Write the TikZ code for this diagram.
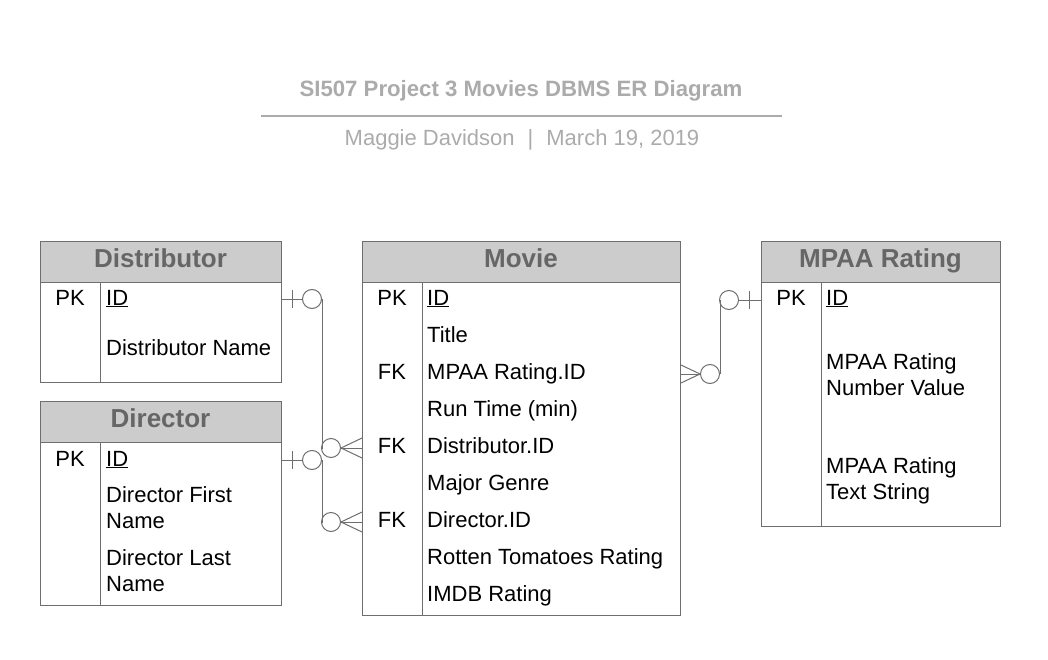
\documentclass[tikz,border=0pt]{standalone}
\usepackage{fontspec}
\setmainfont{Liberation Sans}
\usetikzlibrary{positioning}
\definecolor{linegray}{HTML}{6E6E6E}
\definecolor{hdrgray}{HTML}{CCCCCC}
\definecolor{hdrtextgray}{HTML}{666666}
\definecolor{titlegray}{HTML}{ABABAB}
\tikzset{
  tbl/.style={draw=linegray, line width=1pt, anchor=north west, inner sep=0pt},
  hdr/.style={tbl, fill=hdrgray, minimum height=41pt},
  hdrtext/.style={anchor=base, inner sep=0pt, text=hdrtextgray, font=\fontsize{26}{30}\selectfont\bfseries},
  fld/.style={anchor=base west, inner sep=0pt, align=left, font=\fontsize{22}{26}\selectfont},
  keycol/.style={anchor=base, inner sep=0pt, font=\fontsize{22}{26}\selectfont},
  conn/.style={draw=linegray, line width=1pt},
  ring/.style={circle, draw=linegray, fill=white, line width=1pt, minimum size=19pt, inner sep=0pt}
}
\begin{document}
\begin{tikzpicture}[x=1pt, y=-1pt]
\useasboundingbox (0,0) rectangle (1048,660);

% title block
\node[anchor=base, inner sep=0pt, text=titlegray, font=\fontsize{22.2}{26}\selectfont\bfseries] (title) at (521,97) {SI507 Project 3 Movies DBMS ER Diagram};
\draw[titlegray, line width=2pt] (261,116) -- (782,116);
\node[anchor=base, inner sep=0pt, text=titlegray, font=\fontsize{22}{26}\selectfont] (subtitle) at (522,146) {Maggie Davidson\hspace{13pt}|\hspace{13pt}March 19, 2019};

% Distributor
\node[tbl, minimum width=241pt, minimum height=141pt] (dist) at (40,241) {};
\node[hdr, minimum width=241pt] (disthdr) at (40,241) {};
\node[hdrtext] (distname) at (160.5,267) {Distributor};
\draw[linegray] (100,282) -- (100,382);
\node[keycol] (distpk) at (70,305) {PK};
\node[fld] (distid) at (106,305) {\underline{ID}};
\node[fld] (distnm) at (106,355) {Distributor Name};

% Director
\node[tbl, minimum width=241pt, minimum height=204pt] (dir) at (40,401) {};
\node[hdr, minimum width=241pt] (dirhdr) at (40,401) {};
\node[hdrtext] (dirname) at (160.5,427) {Director};
\draw[linegray] (100,442) -- (100,605);
\node[keycol] (dirpk) at (70,466) {PK};
\node[fld] (dirid) at (106,466) {\underline{ID}};
\node[fld] (dirfirst) at (106,528) {Director First\\Name};
\node[fld] (dirlast) at (106,591) {Director Last\\Name};

% Movie
\node[tbl, minimum width=318pt, minimum height=374pt] (movie) at (362,241) {};
\node[hdr, minimum width=318pt] (moviehdr) at (362,241) {};
\node[hdrtext] (moviename) at (521,267) {Movie};
\draw[linegray] (422,282) -- (422,615);
\node[keycol] (moviepk) at (392,305) {PK};
\node[fld] (movieid) at (427,305) {\underline{ID}};
\node[fld] (movietitle) at (427,342) {Title};
\node[keycol] (moviefka) at (392,379) {FK};
\node[fld] (moviempaa) at (427,379) {MPAA Rating.ID};
\node[fld] (movierun) at (427,416) {Run Time (min)};
\node[keycol] (moviefkb) at (392,453) {FK};
\node[fld] (moviedist) at (427,453) {Distributor.ID};
\node[fld] (moviegenre) at (427,490) {Major Genre};
\node[keycol] (moviefkc) at (392,527) {FK};
\node[fld] (moviedir) at (427,527) {Director.ID};
\node[fld] (movierotten) at (427,564) {Rotten Tomatoes Rating};
\node[fld] (movieimdb) at (427,601) {IMDB Rating};

% MPAA Rating
\node[tbl, minimum width=239pt, minimum height=285pt] (mpaa) at (761,241) {};
\node[hdr, minimum width=239pt] (mpaahdr) at (761,241) {};
\node[hdrtext] (mpaaname) at (880.5,267) {MPAA Rating};
\draw[linegray] (821,282) -- (821,526);
\node[keycol] (mpaapk) at (791,305) {PK};
\node[fld] (mpaaid) at (826,305) {\underline{ID}};
\node[fld] (mpaanum) at (826,395.5) {MPAA Rating\\Number Value};
\node[fld] (mpaatext) at (826,499) {MPAA Rating\\Text String};

% rings
\node[ring] (distring) at (312,299) {};
\node[ring] (dirring) at (312,460) {};
\node[ring] (movdistring) at (331,448) {};
\node[ring] (movdirring) at (331,522) {};
\node[ring] (movmpaaring) at (710,374) {};
\node[ring] (mpaaring) at (729,300) {};

% Distributor -- Movie
\draw[conn] (dist.east |- distring) -- (distring.west);
\draw[conn] (292,290) -- (292,308);
\draw[conn] (distring.east) |- (movdistring.west);
\draw[conn] (movdistring.east) -- (movie.west |- 0,438);
\draw[conn] (movdistring.east) -- (movie.west |- movdistring);
\draw[conn] (movdistring.east) -- (movie.west |- 0,458);

% Director -- Movie
\draw[conn] (dir.east |- dirring) -- (dirring.west);
\draw[conn] (292,451) -- (292,469);
\draw[conn] (dirring.east) |- (movdirring.west);
\draw[conn] (movdirring.east) -- (movie.west |- 0,512);
\draw[conn] (movdirring.east) -- (movie.west |- movdirring);
\draw[conn] (movdirring.east) -- (movie.west |- 0,532);

% Movie -- MPAA Rating
\draw[conn] (movmpaaring.west) -- (movie.east |- 0,365);
\draw[conn] (movmpaaring.west) -- (movie.east |- movmpaaring);
\draw[conn] (movmpaaring.west) -- (movie.east |- 0,383);
\draw[conn] (movmpaaring.east) |- (mpaaring.west);
\draw[conn] (mpaaring.east) -- (mpaa.west |- mpaaring);
\draw[conn] (749,291) -- (749,309);
\end{tikzpicture}
\end{document}
